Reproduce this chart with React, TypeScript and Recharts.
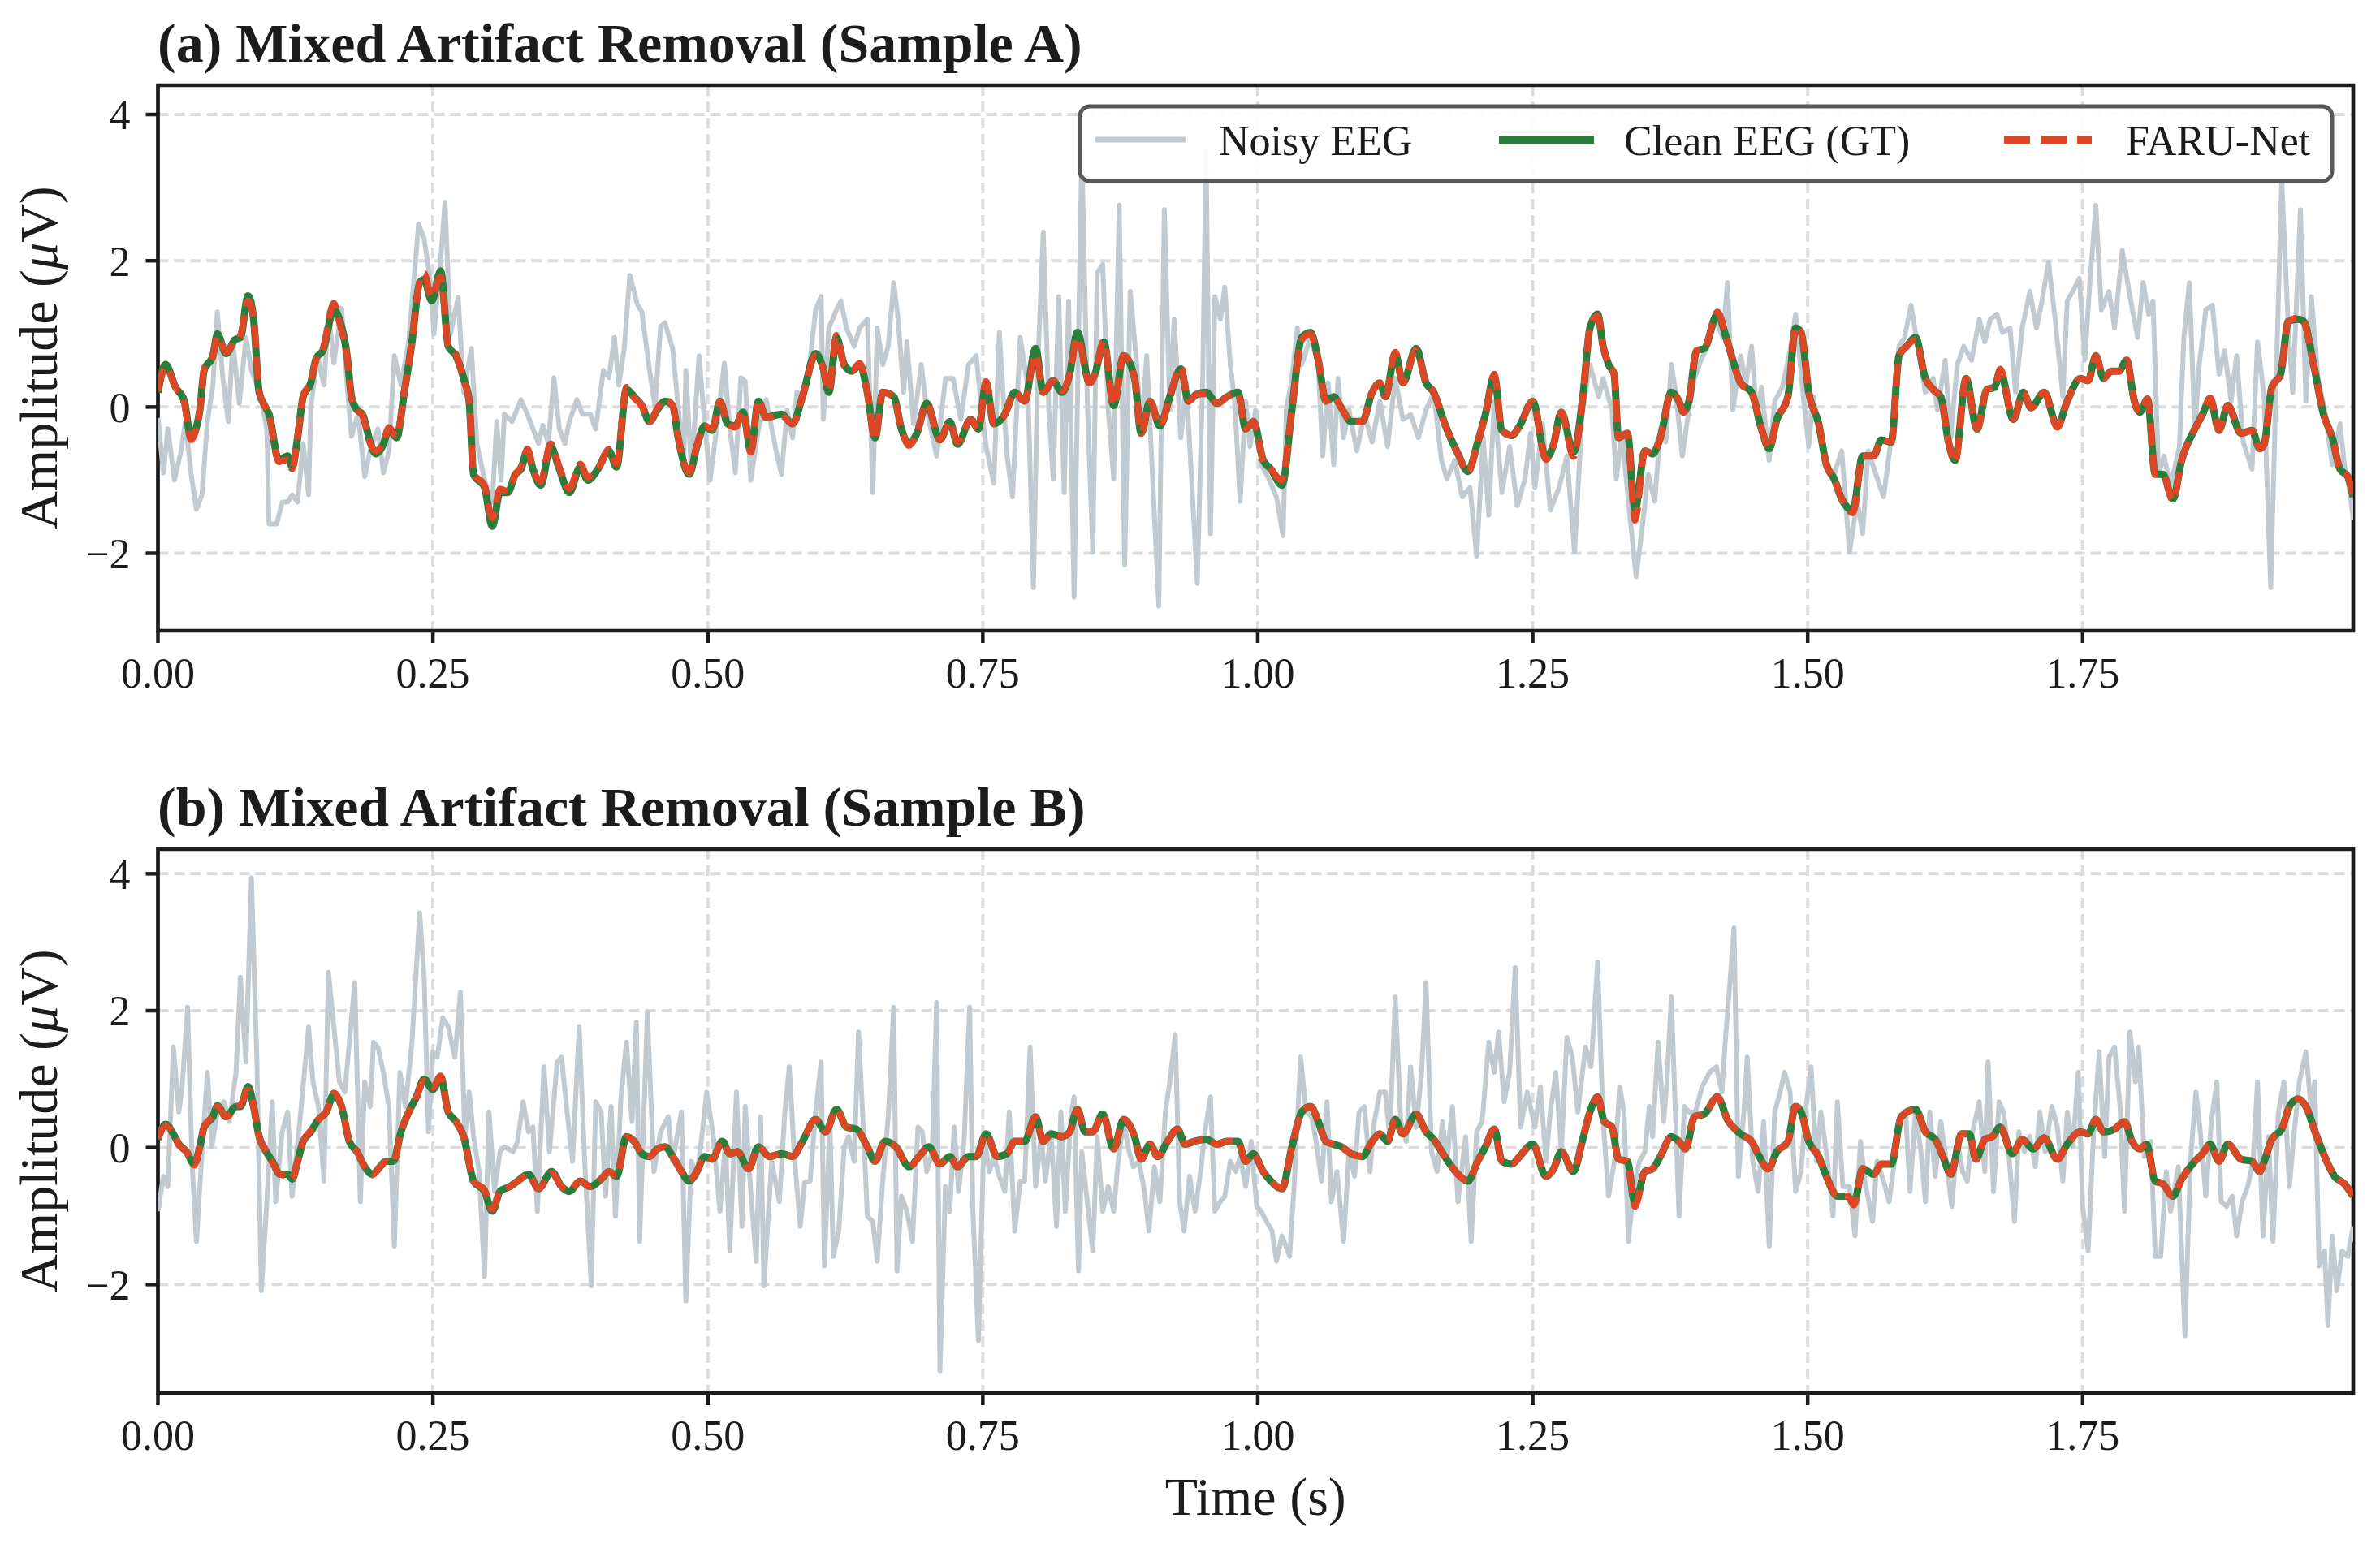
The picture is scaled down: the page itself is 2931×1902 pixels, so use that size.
import React from "react";
import {
  LineChart,
  Line,
  XAxis,
  YAxis,
  CartesianGrid,
  ReferenceArea,
} from "recharts";

// fonts + colours
const SERIF = '"Liberation Serif", "Times New Roman", Times, serif';
const INK = "#1c1c1c";
const NOISY_COLOR = "#c2cad1";
const CLEAN_COLOR = "#2a7d3a";
const FARU_COLOR = "#dd4726";

// axis ticks
const timeTicks = [0, 0.25, 0.5, 0.75, 1.0, 1.25, 1.5, 1.75];
const ampTicks = [-2, 0, 2, 4];
const T_END = 1.996;
const yDomainA: [number, number] = [-3.06, 4.4];
const yDomainB: [number, number] = [-3.585, 4.36];

const panelTitles = [
  "(a) Mixed Artifact Removal (Sample A)",
  "(b) Mixed Artifact Removal (Sample B)",
];
const legendNames = ["Noisy EEG", "Clean EEG (GT)", "FARU-Net"];

type Pt = [number, number];

// ---- Sample A (time s, amplitude uV) ----
const noisyA: Pt[] = [
  [0, -0.15], [0.005, -0.9], [0.009, -0.3], [0.015, -1.0], [0.021, -0.6], [0.025, -0.2], [0.03, -0.9], [0.035, -1.4],
  [0.04, -1.2], [0.045, -0.2], [0.05, 0.3], [0.054, 1.3], [0.059, 0.4], [0.064, -0.2], [0.068, 0.9], [0.074, 0.05],
  [0.08, 0.95], [0.085, 0.5], [0.09, 0.3], [0.094, 0.1], [0.099, -0.3], [0.101, -1.6], [0.108, -1.6], [0.113, -1.3],
  [0.118, -1.3], [0.122, -1.2], [0.127, -1.3], [0.132, -0.5], [0.137, -1.2], [0.139, 0.0], [0.145, 0.7], [0.151, 0.3],
  [0.155, 1.3], [0.16, 0.6], [0.167, 1.35], [0.172, 0.3], [0.176, -0.4], [0.182, -0.1], [0.188, -0.95], [0.193, -0.6],
  [0.2, -0.3], [0.205, -0.9], [0.21, -0.6], [0.215, 0.7], [0.221, 0.3], [0.228, 0.9], [0.237, 2.5], [0.242, 2.3],
  [0.247, 1.8], [0.251, 1.0], [0.257, 2.0], [0.261, 2.8], [0.266, 1.0], [0.273, 1.5], [0.278, 0.2], [0.285, 0.8],
  [0.29, -0.5], [0.297, -1.0], [0.304, -1.3], [0.308, -0.2], [0.312, -1.0], [0.315, -0.1], [0.322, -0.2], [0.33, 0.1],
  [0.336, -0.1], [0.341, -0.3], [0.346, -0.5], [0.35, -0.25], [0.355, -0.5], [0.36, 0.4], [0.365, -0.3], [0.37, -0.5],
  [0.374, -0.2], [0.381, 0.1], [0.386, -0.1], [0.393, -0.1], [0.398, -0.3], [0.405, 0.5], [0.41, 0.4], [0.415, 0.95],
  [0.419, 0.3], [0.424, 0.8], [0.429, 1.8], [0.436, 1.4], [0.44, 1.3], [0.447, 0.5], [0.452, 0.0], [0.457, 1.1],
  [0.461, 1.15], [0.468, 0.8], [0.473, 0.0], [0.478, -0.8], [0.48, 0.5], [0.485, -0.9], [0.492, 0.7], [0.497, -0.2],
  [0.502, -1.0], [0.508, -0.3], [0.515, 0.6], [0.52, -0.3], [0.525, -0.9], [0.53, 0.4], [0.534, 0.35], [0.539, -1.0],
  [0.546, -0.3], [0.553, 0.1], [0.563, -0.67], [0.567, -0.92], [0.572, -0.04], [0.577, -0.42], [0.581, 0.2], [0.586, 0.14],
  [0.593, 0.64], [0.598, 1.33], [0.603, 1.51], [0.605, -0.17], [0.61, 1.08], [0.617, 1.33], [0.621, 1.45], [0.626, 1.08],
  [0.633, 0.83], [0.638, 1.08], [0.645, 1.2], [0.65, -1.17], [0.654, 1.08], [0.659, 0.58], [0.664, 0.83], [0.669, 1.7],
  [0.673, 1.2], [0.678, 0.2], [0.681, 0.89], [0.687, -0.23], [0.694, 0.58], [0.699, -0.04], [0.708, -0.67], [0.716, 0.39],
  [0.723, 0.39], [0.73, -0.17], [0.737, 0.58], [0.744, 0.7], [0.749, -0.04], [0.753, -0.54], [0.76, -1.04], [0.765, 1.02],
  [0.772, -0.67], [0.777, -1.23], [0.784, 0.95], [0.791, 0.27], [0.796, -2.47], [0.8, 0.58], [0.805, 2.39], [0.81, -0.04],
  [0.814, -0.98], [0.819, 1.51], [0.824, -1.17], [0.828, 1.45], [0.833, -2.6], [0.838, 1.83], [0.84, 3.5], [0.845, 0.08],
  [0.85, -1.98], [0.854, 1.83], [0.859, 1.95], [0.864, -0.04], [0.869, -0.98], [0.874, 2.76], [0.879, -2.16], [0.884, 1.58],
  [0.89, 0.58], [0.894, -0.36], [0.899, 0.7], [0.904, -0.85], [0.91, -2.72], [0.915, 2.7], [0.92, -0.04], [0.924, 1.2],
  [0.93, -0.42], [0.935, 0.33], [0.94, -1.04], [0.945, -2.41], [0.95, 0.45], [0.953, 3.5], [0.957, -1.73], [0.961, 1.51],
  [0.966, 1.2], [0.97, 1.64], [0.975, 0.58], [0.979, 0.08], [0.984, -1.29], [0.989, 0.08], [0.993, -0.54], [0.998, -0.04],
  [1.003, -0.79], [1.01, -0.98], [1.017, -1.23], [1.023, -1.76], [1.026, -0.04], [1.031, 0.39], [1.036, 1.08], [1.04, 0.58],
  [1.048, 0.95], [1.055, 0.58], [1.059, -0.67], [1.064, 0.33], [1.069, -0.79], [1.073, 0.39], [1.078, -0.42], [1.083, -0.04],
  [1.09, -0.6], [1.097, -0.1], [1.104, -0.48], [1.111, 0.08], [1.118, -0.54], [1.125, 0.39], [1.132, -0.17], [1.139, -0.1],
  [1.146, -0.42], [1.153, -0.04], [1.16, 0.2], [1.167, -0.73], [1.172, -0.98], [1.179, -0.73], [1.186, -1.23], [1.193, -1.1],
  [1.199, -2.04], [1.205, -0.42], [1.21, -1.48], [1.215, 0.08], [1.222, -1.17], [1.229, -0.54], [1.236, -1.35], [1.243, -0.98],
  [1.248, -0.36], [1.252, -1.1], [1.259, -0.23], [1.266, -1.41], [1.274, -1.1], [1.281, -0.67], [1.288, -1.98], [1.295, -0.1],
  [1.302, 0.58], [1.31, 0.14], [1.314, 0.39], [1.322, -0.04], [1.326, -0.98], [1.331, -0.36], [1.337, -1.29], [1.344, -2.32],
  [1.35, -1.6], [1.355, -0.92], [1.361, -1.29], [1.366, -0.3], [1.371, -0.48], [1.376, 0.58], [1.38, 0.2], [1.386, -0.67],
  [1.392, -0.04], [1.397, 0.39], [1.403, 0.64], [1.409, 0.83], [1.416, 1.2], [1.423, 0.95], [1.427, 1.7], [1.432, -0.04],
  [1.439, 0.7], [1.444, 0.33], [1.449, 0.83], [1.454, -0.17], [1.458, 0.27], [1.465, -0.73], [1.47, 0.08], [1.477, 0.27],
  [1.484, 0.77], [1.489, 1.27], [1.496, 0.14], [1.501, -0.54], [1.505, 0.14], [1.512, -0.48], [1.52, -0.85], [1.524, -0.92],
  [1.531, -0.6], [1.538, -1.98], [1.545, -1.29], [1.55, -1.73], [1.555, -0.6], [1.562, -0.92], [1.569, -1.23], [1.576, -0.42],
  [1.583, 0.83], [1.588, 0.95], [1.594, 1.39], [1.6, 0.83], [1.607, 0.2], [1.614, 0.39], [1.618, -0.04], [1.625, 0.64],
  [1.63, -0.42], [1.636, 0.58], [1.642, 0.83], [1.649, 0.64], [1.656, 1.2], [1.661, 0.89], [1.666, 1.2], [1.672, 1.27],
  [1.677, 1.02], [1.684, 1.08], [1.689, 0.2], [1.695, 1.08], [1.702, 1.58], [1.708, 1.08], [1.713, 1.45], [1.719, 1.98],
  [1.725, 1.2], [1.732, 0.14], [1.736, 1.45], [1.741, 1.58], [1.747, 1.76], [1.752, 0.64], [1.756, 1.58], [1.762, 2.76],
  [1.767, 1.33], [1.774, 1.58], [1.779, 1.08], [1.786, 2.14], [1.793, 1.51], [1.8, 0.95], [1.805, 1.7], [1.81, 1.27],
  [1.814, 1.45], [1.819, -0.92], [1.824, -0.67], [1.83, -1.1], [1.838, -0.54], [1.842, 0.95], [1.847, 1.7], [1.852, -0.3],
  [1.856, 0.58], [1.862, 1.33], [1.868, 1.39], [1.874, 0.45], [1.879, 0.77], [1.885, 0.08], [1.89, 0.7], [1.896, -0.48],
  [1.904, -0.85], [1.909, 0.89], [1.915, 0.14], [1.921, -2.47], [1.926, 0.39], [1.931, 3.1], [1.937, 1.08], [1.941, 0.2],
  [1.948, 2.7], [1.953, 0.08], [1.958, 1.51], [1.964, 0.39], [1.97, -0.04], [1.977, -0.79], [1.984, -0.23], [1.988, -0.79],
  [1.993, -1.17], [1.996, -1.54],
];

const cleanA: Pt[] = [
  [0, 0.2], [0.007, 0.58], [0.016, 0.27], [0.024, 0.08], [0.03, -0.42], [0.038, -0.05], [0.042, 0.5], [0.05, 0.7],
  [0.054, 1.0], [0.062, 0.73], [0.07, 0.92], [0.075, 0.95], [0.082, 1.52], [0.087, 1.2], [0.092, 0.2], [0.097, 0.02],
  [0.101, -0.1], [0.11, -0.73], [0.118, -0.67], [0.122, -0.82], [0.127, -0.42], [0.132, 0.14], [0.139, 0.33], [0.144, 0.67],
  [0.15, 0.77], [0.16, 1.33], [0.165, 1.2], [0.172, 0.7], [0.176, 0.14], [0.181, -0.04], [0.186, -0.1], [0.193, -0.48],
  [0.198, -0.64], [0.205, -0.51], [0.21, -0.3], [0.217, -0.42], [0.224, 0.2], [0.231, 0.89], [0.238, 1.7], [0.242, 1.74],
  [0.249, 1.45], [0.257, 1.86], [0.264, 0.83], [0.271, 0.7], [0.278, 0.39], [0.283, 0.08], [0.287, -0.92], [0.297, -1.1],
  [0.304, -1.63], [0.311, -1.17], [0.318, -1.17], [0.325, -0.92], [0.33, -0.85], [0.336, -0.6], [0.341, -0.85], [0.348, -1.07],
  [0.357, -0.54], [0.365, -0.85], [0.374, -1.17], [0.384, -0.82], [0.391, -1.0], [0.4, -0.85], [0.41, -0.6], [0.417, -0.82],
  [0.426, 0.24], [0.433, 0.14], [0.44, 0.02], [0.447, -0.2], [0.454, -0.04], [0.461, 0.08], [0.468, 0.02], [0.473, -0.42],
  [0.483, -0.92], [0.49, -0.54], [0.497, -0.26], [0.504, -0.32], [0.511, 0.08], [0.518, -0.23], [0.525, -0.26], [0.532, -0.07],
  [0.539, -0.6], [0.546, 0.08], [0.553, -0.14], [0.567, -0.1], [0.577, -0.23], [0.586, 0.14], [0.598, 0.73], [0.605, 0.52],
  [0.61, 0.2], [0.617, 0.95], [0.624, 0.58], [0.631, 0.49], [0.638, 0.58], [0.645, 0.2], [0.652, -0.42], [0.659, 0.2],
  [0.669, 0.14], [0.676, -0.3], [0.683, -0.51], [0.69, -0.36], [0.699, 0.05], [0.711, -0.45], [0.72, -0.2], [0.727, -0.51],
  [0.739, -0.17], [0.746, -0.3], [0.753, 0.33], [0.76, -0.23], [0.77, -0.1], [0.779, 0.2], [0.788, 0.08], [0.798, 0.8],
  [0.805, 0.2], [0.814, 0.36], [0.822, 0.2], [0.829, 0.45], [0.836, 1.02], [0.847, 0.33], [0.852, 0.45], [0.86, 0.89],
  [0.869, 0.02], [0.878, 0.7], [0.888, 0.39], [0.894, -0.36], [0.902, 0.08], [0.911, -0.26], [0.92, 0.14], [0.93, 0.52],
  [0.937, 0.08], [0.944, 0.17], [0.953, 0.2], [0.963, 0.05], [0.972, 0.14], [0.982, 0.2], [0.989, -0.3], [0.996, -0.2],
  [1.005, -0.73], [1.012, -0.85], [1.022, -1.07], [1.031, -0.04], [1.04, 0.95], [1.048, 1.02], [1.055, 0.64], [1.062, 0.08],
  [1.069, 0.14], [1.076, -0.01], [1.085, -0.2], [1.095, -0.2], [1.104, 0.2], [1.111, 0.33], [1.116, 0.14], [1.125, 0.73],
  [1.132, 0.33], [1.144, 0.8], [1.153, 0.33], [1.16, 0.2], [1.17, -0.23], [1.182, -0.64], [1.191, -0.88], [1.2, -0.48],
  [1.207, -0.1], [1.215, 0.42], [1.222, -0.32], [1.231, -0.39], [1.238, -0.26], [1.25, 0.08], [1.262, -0.7], [1.269, -0.51],
  [1.276, -0.07], [1.287, -0.62], [1.296, 0.2], [1.302, 1.08], [1.309, 1.27], [1.314, 0.83], [1.319, 0.58], [1.324, 0.45],
  [1.328, -0.42], [1.336, -0.36], [1.343, -1.4], [1.352, -0.6], [1.359, -0.64], [1.366, -0.42], [1.376, 0.2], [1.383, 0.08],
  [1.387, -0.07], [1.392, 0.08], [1.399, 0.77], [1.406, 0.8], [1.418, 1.27], [1.427, 0.89], [1.439, 0.33], [1.449, 0.2],
  [1.458, -0.3], [1.465, -0.57], [1.472, -0.17], [1.482, 0.14], [1.489, 1.08], [1.494, 1.02], [1.501, 0.2], [1.51, -0.23],
  [1.517, -0.79], [1.524, -0.98], [1.531, -1.26], [1.541, -1.41], [1.55, -0.67], [1.56, -0.67], [1.567, -0.45], [1.576, -0.48],
  [1.583, 0.7], [1.59, 0.83], [1.598, 0.95], [1.607, 0.39], [1.614, 0.24], [1.621, 0.14], [1.628, -0.48], [1.634, -0.73],
  [1.644, 0.39], [1.654, -0.3], [1.663, 0.24], [1.67, 0.27], [1.675, 0.49], [1.687, -0.17], [1.696, 0.2], [1.703, -0.01],
  [1.715, 0.2], [1.727, -0.26], [1.736, 0.08], [1.748, 0.39], [1.755, 0.36], [1.762, 0.7], [1.769, 0.39], [1.776, 0.49],
  [1.783, 0.49], [1.79, 0.64], [1.797, 0.08], [1.802, -0.07], [1.809, 0.11], [1.816, -0.92], [1.823, -0.92], [1.832, -1.26],
  [1.84, -0.73], [1.852, -0.3], [1.859, -0.1], [1.866, 0.11], [1.874, -0.32], [1.882, 0.02], [1.894, -0.36], [1.904, -0.32],
  [1.911, -0.57], [1.915, -0.51], [1.922, 0.27], [1.93, 0.45], [1.937, 1.17], [1.946, 1.2], [1.951, 1.17], [1.96, 0.58],
  [1.969, -0.1], [1.977, -0.42], [1.984, -0.85], [1.991, -0.95], [1.996, -1.23],
];

const faruA: Pt[] = [
  [0, 0.22], [0.007, 0.55], [0.016, 0.27], [0.024, 0.05], [0.03, -0.45], [0.038, -0.05], [0.042, 0.52], [0.05, 0.7],
  [0.054, 0.97], [0.062, 0.75], [0.07, 0.9], [0.075, 0.98], [0.082, 1.45], [0.087, 1.22], [0.092, 0.22], [0.097, 0.02],
  [0.101, -0.12], [0.11, -0.75], [0.118, -0.72], [0.122, -0.85], [0.127, -0.4], [0.132, 0.14], [0.139, 0.35], [0.144, 0.65],
  [0.15, 0.8], [0.16, 1.42], [0.165, 1.15], [0.172, 0.68], [0.176, 0.12], [0.181, -0.04], [0.186, -0.12], [0.193, -0.5],
  [0.198, -0.6], [0.205, -0.48], [0.21, -0.28], [0.217, -0.4], [0.224, 0.22], [0.231, 0.9], [0.238, 1.72], [0.242, 1.83],
  [0.249, 1.5], [0.257, 1.78], [0.264, 0.85], [0.271, 0.72], [0.278, 0.37], [0.283, 0.06], [0.287, -0.9], [0.297, -1.08],
  [0.304, -1.52], [0.311, -1.12], [0.318, -1.15], [0.325, -0.92], [0.33, -0.82], [0.336, -0.57], [0.341, -0.85], [0.348, -1.02],
  [0.357, -0.5], [0.365, -0.82], [0.374, -1.12], [0.384, -0.78], [0.391, -0.96], [0.4, -0.85], [0.41, -0.58], [0.417, -0.78],
  [0.426, 0.27], [0.433, 0.12], [0.44, 0.02], [0.447, -0.2], [0.454, -0.02], [0.461, 0.1], [0.468, 0.02], [0.473, -0.42],
  [0.483, -0.9], [0.49, -0.52], [0.497, -0.26], [0.504, -0.3], [0.511, 0.08], [0.518, -0.23], [0.525, -0.28], [0.532, -0.05],
  [0.539, -0.62], [0.546, 0.1], [0.553, -0.14], [0.567, -0.12], [0.577, -0.23], [0.586, 0.14], [0.598, 0.7], [0.605, 0.52],
  [0.61, 0.22], [0.617, 0.98], [0.624, 0.56], [0.631, 0.49], [0.638, 0.6], [0.645, 0.2], [0.652, -0.45], [0.659, 0.2],
  [0.669, 0.14], [0.676, -0.3], [0.683, -0.53], [0.69, -0.36], [0.699, 0.05], [0.711, -0.45], [0.72, -0.2], [0.727, -0.48],
  [0.739, -0.17], [0.746, -0.3], [0.753, 0.35], [0.76, -0.23], [0.77, -0.1], [0.779, 0.2], [0.788, 0.08], [0.798, 0.72],
  [0.805, 0.2], [0.814, 0.36], [0.822, 0.22], [0.829, 0.45], [0.836, 0.95], [0.847, 0.33], [0.852, 0.45], [0.86, 0.9],
  [0.869, 0.02], [0.878, 0.7], [0.888, 0.39], [0.894, -0.36], [0.902, 0.08], [0.911, -0.26], [0.92, 0.14], [0.93, 0.55],
  [0.937, 0.08], [0.944, 0.17], [0.953, 0.18], [0.963, 0.05], [0.972, 0.14], [0.982, 0.18], [0.989, -0.3], [0.996, -0.2],
  [1.005, -0.73], [1.012, -0.85], [1.022, -1.0], [1.031, -0.04], [1.04, 0.92], [1.048, 1.0], [1.055, 0.64], [1.062, 0.08],
  [1.069, 0.14], [1.076, -0.01], [1.085, -0.2], [1.095, -0.2], [1.104, 0.2], [1.111, 0.33], [1.116, 0.14], [1.125, 0.75],
  [1.132, 0.33], [1.144, 0.78], [1.153, 0.33], [1.16, 0.2], [1.17, -0.23], [1.182, -0.64], [1.191, -0.9], [1.2, -0.48],
  [1.207, -0.1], [1.215, 0.45], [1.222, -0.32], [1.231, -0.39], [1.238, -0.26], [1.25, 0.08], [1.262, -0.72], [1.269, -0.51],
  [1.276, -0.07], [1.287, -0.68], [1.296, 0.2], [1.302, 1.08], [1.309, 1.25], [1.314, 0.83], [1.319, 0.58], [1.324, 0.45],
  [1.328, -0.42], [1.336, -0.36], [1.343, -1.55], [1.352, -0.6], [1.359, -0.64], [1.366, -0.42], [1.376, 0.2], [1.383, 0.08],
  [1.387, -0.07], [1.392, 0.08], [1.399, 0.77], [1.406, 0.8], [1.418, 1.3], [1.427, 0.89], [1.439, 0.33], [1.449, 0.2],
  [1.458, -0.3], [1.465, -0.57], [1.472, -0.17], [1.482, 0.14], [1.489, 1.1], [1.494, 1.02], [1.501, 0.2], [1.51, -0.23],
  [1.517, -0.79], [1.524, -0.98], [1.531, -1.26], [1.541, -1.45], [1.55, -0.67], [1.56, -0.67], [1.567, -0.45], [1.576, -0.48],
  [1.583, 0.7], [1.59, 0.83], [1.598, 0.92], [1.607, 0.39], [1.614, 0.24], [1.621, 0.14], [1.628, -0.48], [1.634, -0.76],
  [1.644, 0.39], [1.654, -0.3], [1.663, 0.24], [1.67, 0.27], [1.675, 0.52], [1.687, -0.17], [1.696, 0.2], [1.703, -0.01],
  [1.715, 0.2], [1.727, -0.28], [1.736, 0.08], [1.748, 0.39], [1.755, 0.36], [1.762, 0.7], [1.769, 0.39], [1.776, 0.49],
  [1.783, 0.49], [1.79, 0.64], [1.797, 0.08], [1.802, -0.07], [1.809, 0.11], [1.816, -0.92], [1.823, -0.92], [1.832, -1.28],
  [1.84, -0.73], [1.852, -0.3], [1.859, -0.1], [1.866, 0.13], [1.874, -0.32], [1.882, 0.02], [1.894, -0.36], [1.904, -0.32],
  [1.911, -0.57], [1.915, -0.51], [1.922, 0.27], [1.93, 0.45], [1.937, 1.17], [1.946, 1.22], [1.951, 1.17], [1.96, 0.58],
  [1.969, -0.1], [1.977, -0.42], [1.984, -0.85], [1.991, -0.95], [1.996, -1.23],
];

// ---- Sample B ----
const noisyB: Pt[] = [
  [0, -0.93], [0.005, -0.42], [0.009, -0.57], [0.014, 1.47], [0.019, 0.52], [0.022, 0.89], [0.027, 2.05], [0.031, -0.2],
  [0.035, -1.37], [0.041, 0.16], [0.045, 1.1], [0.049, 0.01], [0.054, 0.52], [0.06, 0.67], [0.065, 0.38], [0.071, 1.1],
  [0.075, 2.49], [0.08, 1.25], [0.085, 3.94], [0.09, 1.25], [0.094, -2.09], [0.099, -0.79], [0.104, 0.67], [0.107, -0.79],
  [0.113, 0.23], [0.118, 0.52], [0.122, -0.71], [0.129, 0.38], [0.137, 1.76], [0.141, 0.96], [0.146, 0.6], [0.151, -0.49],
  [0.155, 2.56], [0.16, 1.76], [0.165, 0.96], [0.17, 0.81], [0.174, 1.54], [0.179, 2.41], [0.184, -0.79], [0.188, 0.96],
  [0.193, 0.6], [0.196, 1.54], [0.2, 1.47], [0.205, 1.1], [0.21, 0.6], [0.215, -1.44], [0.22, 1.1], [0.225, 0.6],
  [0.231, 1.54], [0.238, 3.43], [0.242, 2.49], [0.246, 0.23], [0.25, 1.4], [0.254, 1.32], [0.259, 1.9], [0.264, 1.76],
  [0.27, 1.32], [0.275, 2.27], [0.279, 0.16], [0.283, 0.81], [0.287, 0.16], [0.292, -0.35], [0.297, -1.88], [0.301, 0.52],
  [0.306, -0.64], [0.311, -0.06], [0.315, 0.01], [0.323, -0.06], [0.327, 0.09], [0.332, 0.67], [0.337, 0.23], [0.341, 0.3],
  [0.345, -0.93], [0.351, 1.18], [0.356, -0.06], [0.363, 1.25], [0.367, 1.32], [0.372, 0.52], [0.377, -0.2], [0.383, 1.76],
  [0.388, -0.2], [0.394, -2.02], [0.398, 0.67], [0.403, 0.52], [0.407, -0.71], [0.412, 0.6], [0.416, -1.0], [0.421, 0.74],
  [0.426, 1.54], [0.431, 0.38], [0.435, 1.83], [0.438, -1.37], [0.445, 1.98], [0.451, -0.35], [0.457, 0.23], [0.464, 0.45],
  [0.468, -0.2], [0.476, 0.52], [0.48, -2.24], [0.485, -0.2], [0.49, -0.42], [0.495, 0.23], [0.499, 0.81], [0.505, 0.16],
  [0.511, -0.93], [0.516, 0.09], [0.52, -1.51], [0.526, 0.81], [0.531, -1.15], [0.534, 0.6], [0.539, -0.64], [0.544, -1.66],
  [0.548, 0.45], [0.551, -2.02], [0.558, -0.2], [0.565, -0.79], [0.57, 0.52], [0.574, 1.18], [0.579, -0.2], [0.584, -1.15],
  [0.588, -0.51], [0.593, -0.49], [0.598, 0.52], [0.603, 1.25], [0.606, -1.73], [0.611, 0.38], [0.614, -1.59], [0.619, -1.22],
  [0.624, 0.01], [0.628, 0.16], [0.633, -0.2], [0.637, 1.69], [0.642, 0.09], [0.645, -1.0], [0.65, -1.08], [0.654, -1.66],
  [0.659, -0.49], [0.664, 0.45], [0.669, 2.05], [0.672, -1.8], [0.676, -0.71], [0.681, -0.93], [0.686, -1.37], [0.691, 0.3],
  [0.695, 0.23], [0.699, -0.35], [0.704, -0.06], [0.708, 2.12], [0.711, -3.26], [0.716, -0.57], [0.72, -0.93], [0.724, 0.3],
  [0.728, -0.64], [0.733, 0.09], [0.738, 2.05], [0.741, -0.93], [0.746, -2.82], [0.751, 0.16], [0.756, -0.35], [0.76, -0.13],
  [0.765, -0.42], [0.77, -0.64], [0.774, 0.52], [0.779, -1.22], [0.784, -0.49], [0.788, -0.49], [0.793, 1.47], [0.798, -0.57],
  [0.803, 0.16], [0.807, -0.49], [0.812, 0.23], [0.817, -1.15], [0.821, 0.52], [0.825, -0.93], [0.83, 0.45], [0.833, 0.74],
  [0.837, -1.8], [0.84, -0.06], [0.845, -0.79], [0.85, -1.51], [0.854, 0.16], [0.859, -0.93], [0.864, -0.57], [0.869, -0.93],
  [0.873, -0.2], [0.878, 0.38], [0.883, -0.06], [0.887, -0.28], [0.892, -0.2], [0.897, -0.64], [0.901, -1.22], [0.906, -0.28],
  [0.911, -0.79], [0.916, 0.52], [0.92, 0.96], [0.925, 1.65], [0.929, -0.79], [0.933, -1.22], [0.938, -0.42], [0.943, -0.93],
  [0.948, -0.35], [0.952, 0.23], [0.957, 0.74], [0.961, -0.93], [0.966, -0.79], [0.97, -0.71], [0.975, -0.2], [0.98, -0.35],
  [0.984, -0.13], [0.989, -0.57], [0.994, 0.09], [0.999, -0.86], [1.003, -0.93], [1.008, -1.08], [1.013, -1.22], [1.017, -1.66],
  [1.022, -1.29], [1.029, -1.59], [1.033, -0.57], [1.039, 1.32], [1.044, 0.52], [1.049, 0.45], [1.053, 0.09], [1.058, -0.49],
  [1.063, 0.67], [1.067, -0.79], [1.072, -0.35], [1.078, -1.37], [1.083, -0.06], [1.088, -0.42], [1.092, 0.52], [1.097, 0.6],
  [1.102, -0.35], [1.106, 0.38], [1.111, 0.81], [1.116, 0.81], [1.12, 0.16], [1.125, 2.2], [1.13, 0.38], [1.135, 0.09],
  [1.139, 1.18], [1.144, 0.3], [1.149, 1.1], [1.153, 2.41], [1.158, -0.06], [1.163, -0.35], [1.168, 0.38], [1.172, -0.2],
  [1.177, 0.6], [1.182, -0.79], [1.189, 0.16], [1.194, -1.37], [1.199, 0.23], [1.204, 0.38], [1.21, 1.54], [1.215, 1.1],
  [1.219, 1.69], [1.224, 0.67], [1.229, 1.1], [1.234, 2.63], [1.239, 0.3], [1.245, 0.81], [1.252, 0.3], [1.257, 0.89],
  [1.262, -0.2], [1.266, 0.52], [1.271, 1.1], [1.276, -0.06], [1.281, 1.61], [1.286, 1.32], [1.291, 0.52], [1.298, 1.47],
  [1.303, 1.18], [1.309, 2.71], [1.314, 0.38], [1.319, -0.71], [1.325, -0.13], [1.329, 0.89], [1.333, 0.52], [1.337, -1.37],
  [1.342, -0.57], [1.347, -0.2], [1.352, -0.06], [1.356, 0.6], [1.359, 0.16], [1.364, 1.54], [1.369, 0.38], [1.372, 0.96],
  [1.376, 2.2], [1.38, 0.38], [1.383, -1.0], [1.388, 0.6], [1.392, 0.52], [1.398, 0.52], [1.404, 0.89], [1.411, 1.1],
  [1.417, 1.18], [1.422, 0.81], [1.425, 1.54], [1.43, 2.56], [1.433, 3.21], [1.437, -0.42], [1.442, 0.52], [1.445, 1.32],
  [1.45, -0.2], [1.455, -0.64], [1.46, 0.38], [1.465, -1.44], [1.47, 0.52], [1.475, 0.81], [1.479, 1.1], [1.484, 0.81],
  [1.489, -0.64], [1.494, -0.35], [1.498, 0.52], [1.503, 1.18], [1.508, -0.2], [1.512, 0.52], [1.518, -0.2], [1.523, -1.0],
  [1.527, 0.67], [1.532, -0.57], [1.538, -0.57], [1.543, -1.29], [1.548, 0.09], [1.552, -0.49], [1.559, -1.08], [1.563, -0.2],
  [1.569, -0.49], [1.574, -0.79], [1.579, -0.2], [1.584, 0.38], [1.589, 0.52], [1.593, -0.64], [1.598, 0.52], [1.603, -0.06],
  [1.607, -0.79], [1.611, 0.52], [1.616, -0.42], [1.621, 0.38], [1.626, -0.2], [1.631, -0.86], [1.636, 0.09], [1.641, -0.35],
  [1.645, -0.49], [1.65, 0.23], [1.656, 0.67], [1.661, -0.35], [1.664, 1.25], [1.669, -0.64], [1.674, 0.67], [1.678, 0.52],
  [1.683, -0.13], [1.688, -1.08], [1.692, 0.23], [1.697, -0.06], [1.702, 0.16], [1.707, -0.28], [1.711, 0.52], [1.716, -0.06],
  [1.722, 0.6], [1.727, 0.3], [1.732, -0.49], [1.736, 0.52], [1.741, 0.01], [1.746, 1.1], [1.75, -0.86], [1.755, -1.51],
  [1.76, 0.23], [1.765, 1.4], [1.77, -0.13], [1.774, 1.32], [1.779, 1.47], [1.784, 0.6], [1.788, -0.93], [1.793, 1.69],
  [1.798, 0.96], [1.801, 1.47], [1.806, -0.13], [1.812, 0.09], [1.816, -1.59], [1.821, -1.59], [1.826, -0.35], [1.83, -0.93],
  [1.837, -0.28], [1.843, -2.75], [1.848, -0.2], [1.853, 0.81], [1.857, 0.23], [1.862, -0.71], [1.867, 0.38], [1.872, 0.96],
  [1.876, -0.79], [1.881, -0.86], [1.886, -0.71], [1.89, -1.29], [1.895, -0.79], [1.9, -0.57], [1.905, -0.2], [1.909, 0.96],
  [1.914, -1.29], [1.919, 0.16], [1.923, -1.37], [1.928, 0.52], [1.933, 0.96], [1.938, -0.57], [1.942, 0.16], [1.947, 0.96],
  [1.953, 1.4], [1.958, 0.52], [1.961, 0.96], [1.965, -1.73], [1.97, -1.51], [1.973, -2.6], [1.977, -1.29], [1.981, -2.09],
  [1.986, -1.51], [1.991, -1.59], [1.996, -1.15],
];

const cleanB: Pt[] = [
  [0, 0.12], [0.007, 0.34], [0.014, 0.2], [0.019, 0.05], [0.026, -0.06], [0.033, -0.24], [0.038, 0.01], [0.042, 0.3],
  [0.05, 0.45], [0.054, 0.61], [0.062, 0.45], [0.071, 0.6], [0.075, 0.6], [0.082, 0.89], [0.087, 0.6], [0.092, 0.16],
  [0.097, -0.02], [0.104, -0.2], [0.111, -0.39], [0.118, -0.39], [0.122, -0.46], [0.127, -0.2], [0.132, 0.09], [0.139, 0.23],
  [0.146, 0.41], [0.153, 0.52], [0.16, 0.78], [0.167, 0.6], [0.174, 0.09], [0.181, -0.06], [0.188, -0.28], [0.195, -0.39],
  [0.202, -0.28], [0.207, -0.2], [0.214, -0.2], [0.221, 0.23], [0.228, 0.52], [0.235, 0.74], [0.242, 1.0], [0.25, 0.85],
  [0.257, 1.03], [0.264, 0.52], [0.271, 0.38], [0.278, 0.16], [0.287, -0.49], [0.297, -0.64], [0.304, -0.93], [0.311, -0.64],
  [0.32, -0.57], [0.327, -0.49], [0.337, -0.39], [0.346, -0.6], [0.358, -0.35], [0.367, -0.57], [0.374, -0.64], [0.384, -0.49],
  [0.393, -0.57], [0.403, -0.46], [0.41, -0.35], [0.417, -0.42], [0.426, 0.16], [0.433, 0.09], [0.44, -0.09], [0.447, -0.13],
  [0.454, -0.02], [0.461, 0.01], [0.468, -0.13], [0.476, -0.35], [0.483, -0.49], [0.49, -0.35], [0.497, -0.13], [0.504, -0.17],
  [0.513, 0.09], [0.52, -0.09], [0.527, -0.06], [0.537, -0.31], [0.546, 0.01], [0.556, -0.13], [0.567, -0.09], [0.577, -0.13],
  [0.586, 0.09], [0.598, 0.41], [0.607, 0.23], [0.617, 0.56], [0.626, 0.3], [0.635, 0.27], [0.645, 0.01], [0.652, -0.2],
  [0.661, 0.09], [0.671, 0.01], [0.683, -0.28], [0.692, -0.13], [0.701, 0.01], [0.711, -0.24], [0.72, -0.13], [0.727, -0.28],
  [0.737, -0.13], [0.744, -0.13], [0.753, 0.2], [0.763, -0.13], [0.772, -0.09], [0.779, 0.09], [0.788, 0.09], [0.798, 0.45],
  [0.805, 0.09], [0.812, 0.2], [0.822, 0.16], [0.829, 0.23], [0.836, 0.56], [0.843, 0.23], [0.85, 0.23], [0.859, 0.49],
  [0.869, -0.02], [0.878, 0.41], [0.888, 0.16], [0.894, -0.17], [0.902, 0.05], [0.909, -0.13], [0.918, 0.09], [0.927, 0.27],
  [0.934, 0.05], [0.942, 0.09], [0.953, 0.12], [0.963, 0.05], [0.972, 0.09], [0.982, 0.09], [0.989, -0.2], [0.996, -0.09],
  [1.005, -0.35], [1.012, -0.49], [1.022, -0.6], [1.031, 0.01], [1.04, 0.52], [1.048, 0.6], [1.055, 0.38], [1.062, 0.09],
  [1.069, 0.05], [1.076, 0.01], [1.085, -0.09], [1.095, -0.13], [1.104, 0.09], [1.111, 0.2], [1.118, 0.09], [1.125, 0.41],
  [1.132, 0.2], [1.144, 0.49], [1.153, 0.23], [1.16, 0.12], [1.17, -0.13], [1.182, -0.39], [1.191, -0.49], [1.2, -0.2],
  [1.207, 0.01], [1.215, 0.27], [1.222, -0.2], [1.231, -0.24], [1.238, -0.13], [1.25, 0.05], [1.262, -0.42], [1.269, -0.31],
  [1.276, -0.06], [1.287, -0.35], [1.295, 0.09], [1.302, 0.52], [1.309, 0.74], [1.315, 0.38], [1.322, 0.3], [1.328, -0.17],
  [1.336, -0.2], [1.343, -0.82], [1.352, -0.35], [1.359, -0.31], [1.366, -0.13], [1.376, 0.16], [1.383, 0.09], [1.389, -0.02],
  [1.397, 0.45], [1.406, 0.49], [1.418, 0.74], [1.427, 0.41], [1.439, 0.2], [1.449, 0.09], [1.456, -0.13], [1.464, -0.31],
  [1.472, -0.06], [1.482, 0.09], [1.489, 0.6], [1.494, 0.52], [1.501, 0.09], [1.51, -0.13], [1.517, -0.42], [1.527, -0.71],
  [1.536, -0.71], [1.542, -0.82], [1.55, -0.31], [1.56, -0.39], [1.567, -0.24], [1.576, -0.24], [1.585, 0.45], [1.598, 0.56],
  [1.607, 0.23], [1.616, 0.12], [1.623, -0.13], [1.63, -0.39], [1.64, 0.2], [1.647, 0.2], [1.653, -0.17], [1.661, 0.12],
  [1.668, 0.16], [1.675, 0.3], [1.686, -0.09], [1.695, 0.12], [1.705, -0.02], [1.715, 0.14], [1.727, -0.17], [1.736, 0.05],
  [1.748, 0.23], [1.755, 0.2], [1.762, 0.41], [1.769, 0.23], [1.779, 0.27], [1.788, 0.38], [1.795, 0.09], [1.802, -0.02],
  [1.808, 0.05], [1.816, -0.49], [1.823, -0.53], [1.832, -0.71], [1.84, -0.46], [1.852, -0.2], [1.859, -0.09], [1.866, 0.05],
  [1.874, -0.2], [1.882, 0.05], [1.894, -0.17], [1.904, -0.2], [1.911, -0.35], [1.915, -0.2], [1.922, 0.12], [1.931, 0.27],
  [1.939, 0.63], [1.946, 0.71], [1.953, 0.6], [1.962, 0.2], [1.97, -0.13], [1.979, -0.42], [1.988, -0.53], [1.996, -0.71],
];

const faruB: Pt[] = [
  [0, 0.14], [0.007, 0.32], [0.014, 0.2], [0.019, 0.04], [0.026, -0.06], [0.033, -0.26], [0.038, 0.01], [0.042, 0.3],
  [0.05, 0.47], [0.054, 0.6], [0.062, 0.45], [0.071, 0.58], [0.075, 0.62], [0.082, 0.84], [0.087, 0.6], [0.092, 0.16],
  [0.097, -0.02], [0.104, -0.22], [0.111, -0.39], [0.118, -0.42], [0.122, -0.46], [0.127, -0.2], [0.132, 0.09], [0.139, 0.25],
  [0.146, 0.41], [0.153, 0.52], [0.16, 0.8], [0.167, 0.6], [0.174, 0.09], [0.181, -0.06], [0.188, -0.28], [0.195, -0.4],
  [0.202, -0.28], [0.207, -0.2], [0.214, -0.22], [0.221, 0.23], [0.228, 0.52], [0.235, 0.74], [0.242, 0.98], [0.25, 0.88],
  [0.257, 1.05], [0.264, 0.52], [0.271, 0.38], [0.278, 0.16], [0.287, -0.49], [0.297, -0.62], [0.304, -0.9], [0.311, -0.64],
  [0.32, -0.57], [0.327, -0.49], [0.337, -0.4], [0.346, -0.6], [0.358, -0.37], [0.367, -0.57], [0.374, -0.62], [0.384, -0.49],
  [0.393, -0.57], [0.403, -0.46], [0.41, -0.35], [0.417, -0.42], [0.426, 0.16], [0.433, 0.09], [0.44, -0.09], [0.447, -0.13],
  [0.454, -0.02], [0.461, 0.01], [0.468, -0.13], [0.476, -0.35], [0.483, -0.47], [0.49, -0.35], [0.497, -0.13], [0.504, -0.17],
  [0.513, 0.09], [0.52, -0.09], [0.527, -0.06], [0.537, -0.31], [0.546, 0.01], [0.556, -0.13], [0.567, -0.09], [0.577, -0.13],
  [0.586, 0.09], [0.598, 0.41], [0.607, 0.23], [0.617, 0.56], [0.626, 0.3], [0.635, 0.27], [0.645, 0.01], [0.652, -0.2],
  [0.661, 0.09], [0.671, 0.01], [0.683, -0.28], [0.692, -0.13], [0.701, 0.01], [0.711, -0.24], [0.72, -0.13], [0.727, -0.28],
  [0.737, -0.13], [0.744, -0.13], [0.753, 0.2], [0.763, -0.13], [0.772, -0.09], [0.779, 0.09], [0.788, 0.09], [0.798, 0.45],
  [0.805, 0.09], [0.812, 0.2], [0.822, 0.16], [0.829, 0.23], [0.836, 0.56], [0.843, 0.23], [0.85, 0.23], [0.859, 0.49],
  [0.869, -0.02], [0.878, 0.41], [0.888, 0.16], [0.894, -0.17], [0.902, 0.05], [0.909, -0.13], [0.918, 0.09], [0.927, 0.27],
  [0.934, 0.05], [0.942, 0.09], [0.953, 0.12], [0.963, 0.05], [0.972, 0.09], [0.982, 0.09], [0.989, -0.2], [0.996, -0.09],
  [1.005, -0.35], [1.012, -0.49], [1.022, -0.6], [1.031, 0.01], [1.04, 0.52], [1.048, 0.6], [1.055, 0.38], [1.062, 0.09],
  [1.069, 0.05], [1.076, 0.01], [1.085, -0.09], [1.095, -0.13], [1.104, 0.09], [1.111, 0.2], [1.118, 0.09], [1.125, 0.41],
  [1.132, 0.2], [1.144, 0.49], [1.153, 0.23], [1.16, 0.12], [1.17, -0.13], [1.182, -0.39], [1.191, -0.49], [1.2, -0.2],
  [1.207, 0.01], [1.215, 0.27], [1.222, -0.2], [1.231, -0.24], [1.238, -0.13], [1.25, 0.05], [1.262, -0.42], [1.269, -0.31],
  [1.276, -0.06], [1.287, -0.35], [1.295, 0.09], [1.302, 0.52], [1.309, 0.74], [1.315, 0.38], [1.322, 0.3], [1.328, -0.17],
  [1.336, -0.2], [1.343, -0.86], [1.352, -0.35], [1.359, -0.31], [1.366, -0.13], [1.376, 0.16], [1.383, 0.09], [1.389, -0.02],
  [1.397, 0.45], [1.406, 0.49], [1.418, 0.74], [1.427, 0.41], [1.439, 0.2], [1.449, 0.09], [1.456, -0.13], [1.464, -0.31],
  [1.472, -0.06], [1.482, 0.09], [1.489, 0.6], [1.494, 0.52], [1.501, 0.09], [1.51, -0.13], [1.517, -0.42], [1.527, -0.71],
  [1.536, -0.71], [1.542, -0.84], [1.55, -0.31], [1.56, -0.39], [1.567, -0.24], [1.576, -0.24], [1.585, 0.45], [1.598, 0.56],
  [1.607, 0.23], [1.616, 0.12], [1.623, -0.13], [1.63, -0.39], [1.64, 0.2], [1.647, 0.2], [1.653, -0.17], [1.661, 0.12],
  [1.668, 0.16], [1.675, 0.3], [1.686, -0.09], [1.695, 0.12], [1.705, -0.02], [1.715, 0.14], [1.727, -0.17], [1.736, 0.05],
  [1.748, 0.23], [1.755, 0.2], [1.762, 0.41], [1.769, 0.23], [1.779, 0.27], [1.788, 0.38], [1.795, 0.09], [1.802, -0.02],
  [1.808, 0.05], [1.816, -0.49], [1.823, -0.53], [1.832, -0.71], [1.84, -0.46], [1.852, -0.2], [1.859, -0.09], [1.866, 0.05],
  [1.874, -0.2], [1.882, 0.05], [1.894, -0.17], [1.904, -0.2], [1.911, -0.35], [1.915, -0.2], [1.922, 0.12], [1.931, 0.27],
  [1.939, 0.63], [1.946, 0.71], [1.953, 0.6], [1.962, 0.2], [1.97, -0.13], [1.979, -0.42], [1.988, -0.53], [1.996, -0.71],
];

const rows = (pts: Pt[]) => pts.map(([t, v]) => ({ t, v }));
const fmtAmp = (v: number) => String(v).replace("-", "\u2212");

// y-axis title with italic mu, like matplotlib mathtext
const AmpLabel = (props: any) => {
  const vb = props.viewBox || {};
  const cx = 70;
  const cy = (vb.y ?? 0) + (vb.height ?? 0) / 2;
  return (
    <text
      x={cx}
      y={cy}
      transform={`rotate(-90 ${cx} ${cy})`}
      textAnchor="middle"
      fontFamily={SERIF}
      fontSize={66}
      fill={INK}
    >
      Amplitude (<tspan fontStyle="italic">μ</tspan>V)
    </text>
  );
};

const TimeLabel = (props: any) => {
  const vb = props.viewBox || {};
  const cx = (vb.x ?? 0) + (vb.width ?? 0) / 2;
  const cy = (vb.y ?? 0) + 150;
  return (
    <text x={cx} y={cy} textAnchor="middle" fontFamily={SERIF} fontSize={66} fill={INK}>
      Time (s)
    </text>
  );
};

type PanelProps = {
  top: number;
  height: number;
  marginTop: number;
  axisHeight: number;
  yDomain: [number, number];
  noisy: Pt[];
  clean: Pt[];
  faru: Pt[];
  showTimeLabel: boolean;
};

const Panel = ({ top, height, marginTop, axisHeight, yDomain, noisy, clean, faru, showTimeLabel }: PanelProps) => {
  const tickStyle = { fill: INK, fontSize: 52, fontFamily: SERIF };
  const tickLineStyle = { stroke: INK, strokeWidth: 4.5 };
  return (
    <div style={{ position: "absolute", left: 0, top }}>
      <LineChart width={2931} height={height} margin={{ top: marginTop, right: 33, bottom: 0, left: 0 }}>
        <CartesianGrid stroke="#dcdcdc" strokeWidth={4} strokeDasharray="13 7" />
        <XAxis
          type="number"
          dataKey="t"
          domain={[0, T_END]}
          ticks={timeTicks}
          interval={0}
          allowDataOverflow
          height={axisHeight}
          axisLine={false}
          tickLine={tickLineStyle}
          tickSize={15}
          tickMargin={18}
          tick={tickStyle}
          tickFormatter={(v: number) => v.toFixed(2)}
          label={showTimeLabel ? <TimeLabel /> : undefined}
        />
        <YAxis
          type="number"
          domain={yDomain}
          ticks={ampTicks}
          interval={0}
          allowDataOverflow
          width={194.5}
          axisLine={false}
          tickLine={tickLineStyle}
          tickSize={15}
          tickMargin={19}
          tick={tickStyle}
          tickFormatter={fmtAmp}
          label={<AmpLabel />}
        />
        <Line
          data={rows(noisy)}
          dataKey="v"
          type="linear"
          stroke={NOISY_COLOR}
          strokeWidth={6}
          strokeLinejoin="round"
          dot={false}
          isAnimationActive={false}
        />
        <Line
          data={rows(clean)}
          dataKey="v"
          type="monotone"
          stroke={CLEAN_COLOR}
          strokeWidth={9}
          strokeLinejoin="round"
          dot={false}
          isAnimationActive={false}
        />
        <Line
          data={rows(faru)}
          dataKey="v"
          type="monotone"
          stroke={FARU_COLOR}
          strokeWidth={8}
          strokeDasharray="28 11"
          strokeLinejoin="round"
          dot={false}
          isAnimationActive={false}
        />
        <ReferenceArea
          x1={0}
          x2={T_END}
          y1={yDomain[0]}
          y2={yDomain[1]}
          fill="none"
          stroke={INK}
          strokeWidth={4.7}
        />
      </LineChart>
    </div>
  );
};

// titles and legend drawn on top, like matplotlib
const Overlay = () => (
  <svg
    width={2931}
    height={1902}
    style={{ position: "absolute", left: 0, top: 0, pointerEvents: "none" }}
  >
    <text x={194} y={76} fontFamily={SERIF} fontWeight="bold" fontSize={68} fill={INK}>
      {panelTitles[0]}
    </text>
    <text x={194} y={1017} fontFamily={SERIF} fontWeight="bold" fontSize={68} fill={INK}>
      {panelTitles[1]}
    </text>
    <g transform="translate(1326,127)">
      <rect x={4} y={4} width={1542} height={92} rx={12} fill="#ffffff" fillOpacity={0.9} stroke="#585858" strokeWidth={5} />
      <line x1={22} x2={135} y1={45} y2={45} stroke={NOISY_COLOR} strokeWidth={7} />
      <text x={175} y={64} fontFamily={SERIF} fontSize={52} fill={INK}>{legendNames[0]}</text>
      <line x1={520} x2={637} y1={45} y2={45} stroke={CLEAN_COLOR} strokeWidth={10} />
      <text x={674} y={64} fontFamily={SERIF} fontSize={52} fill={INK}>{legendNames[1]}</text>
      <line x1={1142} x2={1250} y1={45} y2={45} stroke={FARU_COLOR} strokeWidth={10} strokeDasharray="32 13" />
      <text x={1292} y={64} fontFamily={SERIF} fontSize={52} fill={INK}>{legendNames[2]}</text>
    </g>
  </svg>
);

const App = () => (
  <div style={{ position: "absolute", left: 0, top: 0, width: 2931, height: 1902, background: "#ffffff", overflow: "hidden" }}>
    <Panel
      top={0}
      height={920}
      marginTop={105}
      axisHeight={143}
      yDomain={yDomainA}
      noisy={noisyA}
      clean={cleanA}
      faru={faruA}
      showTimeLabel={false}
    />
    <Panel
      top={920}
      height={982}
      marginTop={126}
      axisHeight={186}
      yDomain={yDomainB}
      noisy={noisyB}
      clean={cleanB}
      faru={faruB}
      showTimeLabel={true}
    />
    <Overlay />
  </div>
);

export default App;
